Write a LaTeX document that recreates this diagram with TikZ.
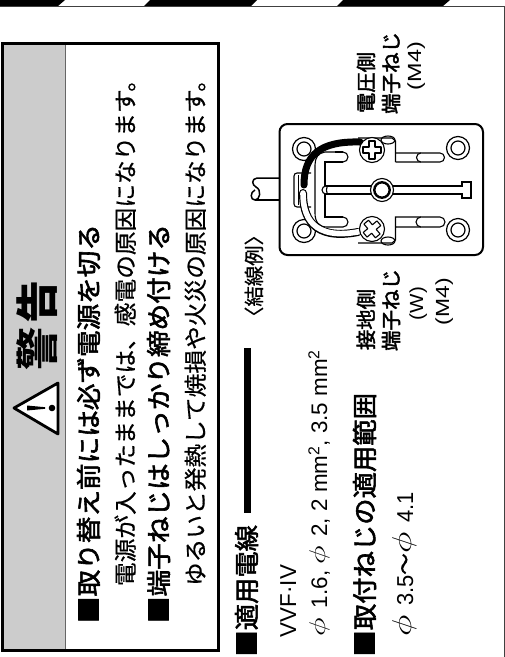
\documentclass[tikz,border=0pt]{standalone}
\usepackage{fontspec}
\setmainfont{Liberation Sans}
\newfontfamily\cjk[FakeBold=0.6]{Noto Sans CJK JP}
\newfontfamily\cjkm[FakeBold=2.2]{Noto Sans CJK JP}
\newfontfamily\cjkh{Noto Sans CJK JP}
% fit text to a given length along its line, keeping the glyph height
\newcommand{\jp}[3]{\resizebox{#1pt}{\height}{\fontsize{#2}{#2}\selectfont\cjk #3}}
\newcommand{\jb}[3]{\resizebox{#1pt}{\height}{\fontsize{#2}{#2}\selectfont\cjkm #3}}
\newcommand{\lt}[3]{\resizebox{#1pt}{\height}{\fontsize{#2}{#2}\selectfont #3}}
\newcommand{\ph}{\raisebox{2pt}{\scalebox{1.55}[1.1]{$\phi$}}\hspace{.42em}}
\tikzset{
  vtext/.style={rotate=90,anchor=base west,inner sep=0pt,outer sep=0pt},
  plate/.style={line width=1.1pt,black},
  hole/.style={draw=black,line width=1.2pt,fill=white},
}
\begin{document}
\begin{tikzpicture}[x=1pt,y=-1pt]
\useasboundingbox (0,0) rectangle (505,657);
\fill[white] (0,0) rectangle (505,657);
\begin{scope}
\clip (0,0) rectangle (505,657);
% top stripes
\fill[black] (0,0) -- (65,0) -- (58,6) -- (0,6) -- cycle;
\fill[black] (150,0) -- (257,0) -- (251,6) -- (144,6) -- cycle;
\fill[black] (343,0) -- (450,0) -- (443,6) -- (337,6) -- cycle;
\draw[line width=0.8pt,black!75] (0,6.3) -- (504,6.3) -- (504,657);
% warning box
\fill[black!20] (3,44) rectangle (65,650);
\draw[line width=0.8pt,black!60] (65,44) -- (65,650);
\draw[line width=3pt,black] (2.5,43.5) rectangle (218.5,650);
% triangle
\draw[line width=2.8pt,black,line join=round,fill=white] (14,408) -- (58,383) -- (58,434) -- cycle;
\fill[black] (27,405.5) -- (45,407.2) -- (45,408.8) -- (27,410.5) -- cycle;
\fill[black] (52,408) circle (3.3);
% heading
\node[rotate=90,inner sep=0pt] (kei) at (37.5,349) {\fontsize{43}{43}\selectfont\cjkh\bfseries 警};
\node[rotate=90,inner sep=0pt] (koku) at (37.5,302) {\fontsize{43}{43}\selectfont\cjkh\bfseries 告};
% warning lines
\node[vtext] (l1) at (98,623) {\jb{399}{25}{■取り替え前には必ず電源を切る}};
\node[vtext] (l2) at (134,586) {\jp{518}{23}{電源が入ったままでは、感電の原因になります。}};
\node[vtext] (l3) at (168,623) {\jb{399}{25}{■端子ねじはしっかり締め付ける}};
\node[vtext] (l4) at (204,586) {\jp{518}{23}{ゆるいと発熱して焼損や火災の原因になります。}};
% spec section
\node[vtext] (s1) at (256,656.5) {\jb{131.5}{25}{■適用電線}};
\fill[black] (244,348) rectangle (251,513);
\node[vtext] (s2) at (296,637) {\lt{72}{23}{VVF·IV}};
\node[vtext] (s3) at (327,636) {\lt{286}{22.5}{\ph 1.6, \ph 2, 2 mm\textsuperscript{2}, 3.5 mm\textsuperscript{2}}};
\node[vtext] (s4) at (374,656.5) {\jb{263.5}{25}{■取付ねじの適用範囲}};
\node[vtext] (s5) at (413,636) {\lt{144}{23}{\ph 3.5{\cjk〜}\ph 4.1}};
\node[vtext] (ex) at (261.5,327) {\jp{102}{20}{〈結線例〉}};
% labels
\node[vtext] (a1) at (373.5,113) {\jb{61}{20}{電圧側}};
\node[vtext] (a2) at (398.5,114) {\jb{82}{20}{端子ねじ}};
\node[vtext] (a3) at (421,90) {\lt{48}{19}{(M4)}};
\node[vtext] (b1) at (373.5,350) {\jb{61}{20}{接地側}};
\node[vtext] (b2) at (398.5,351) {\jb{82}{20}{端子ねじ}};
\node[vtext] (b3) at (423,320) {\lt{33}{19}{(W)}};
\node[vtext] (b4) at (449,325) {\lt{47}{19}{(M4)}};
% cable
\draw[plate,line width=1.5pt] (280,178) -- (257,178) .. controls (251,179) and (252,185) .. (256,187) .. controls (262,190) and (260,200) .. (255,200) .. controls (250,200) and (250,192) .. (255,190);
\draw[plate,line width=1.5pt] (255,200) -- (280,200);
% switch plate
\draw[line width=2pt,black,fill=white,rounded corners=8pt] (279.5,124) rectangle (483,255);
% holes
\foreach \c in {(304,149),(304,231),(458,148),(458,230)}{
  \draw[hole] \c circle (11.5);
  \draw[hole] \c circle (7);
}
% clamp
\draw[plate,rounded corners=3pt,fill=white] (311,173) -- (294,173) -- (294,207) -- (311,207);
\draw[line width=.8pt] (298,175) -- (298,205);
% link and bracket
\draw[plate] (343,162) -- (325,162) -- (325,186);
\draw[plate] (325,194) -- (325,217) -- (343,217);
\draw[plate] (343,152) -- (325,152) .. controls (318,153) and (315,158) .. (315,165) -- (315,213) .. controls (315,222) and (319,227) .. (327,227) -- (343,227);
\draw[line width=2pt] (335,152) -- (343,152);
\draw[line width=2pt] (335,217) -- (343,217);
\draw[plate] (343,152) arc (-90:90:5);
\draw[plate] (343,217) arc (-90:90:5);
% centre slot
\draw[plate] (328,186) -- (462,186) -- (462,182) -- (471,182) -- (471,198) -- (462,198) -- (462,194) -- (328,194);
\draw[plate] (326,186) arc (-90:-270:4) ;
\draw[plate] (326,186) -- (328,186) (326,194) -- (328,194);
\draw[plate] (328,186) arc (-90:-270:1.5 and 4);
\draw[plate,fill=white] (382,190) circle (11.5);
\draw[line width=2.4pt] (382,190) circle (7.7);
% right pills and terminals
\draw[plate] (358,138) -- (392,138) -- (395.5,141) -- (395.5,162);
\draw[plate] (395.5,153) -- (440,153) arc (-90:90:4.5) -- (395.5,162);
\draw[plate,fill=white] (421,153) arc (-90:-270:4.5);
\draw[plate] (358,243) -- (392,243) -- (395.5,240) -- (395.5,217) -- (440,217) arc (-90:90:5) -- (395.5,227);
\draw[plate,fill=white] (421,217) arc (-90:-270:5);
\draw[plate] (388,140) ellipse (7 and 4);
\draw[plate] (388,241) ellipse (7 and 4);
% wires
\draw[line width=8pt,black,line cap=round] (303,193) .. controls (303,216) and (312,241) .. (358,232);
\draw[line width=5.6pt,white,line cap=round] (303,193) .. controls (303,216) and (312,241) .. (360,231.5);
\draw[line width=7pt,black,line cap=round] (304,185) .. controls (304,155) and (320,141) .. (360,142);
% screws
\draw[plate,fill=white] (372,150) circle (12.5);
\draw[plate,line join=round,fill=white,shift={(372,150)}] (-3,-3) -- (-3,-9) -- (3,-9) -- (3,-3) -- (9,-3) -- (9,3) -- (3,3) -- (3,9) -- (-3,9) -- (-3,3) -- (-9,3) -- (-9,-3) -- cycle;
\draw[plate,fill=white] (372,229) circle (12.5);
\draw[plate,line join=round,fill=white,shift={(372,229)},rotate=40] (-3,-3) -- (-3,-9) -- (3,-9) -- (3,-3) -- (9,-3) -- (9,3) -- (3,3) -- (3,9) -- (-3,9) -- (-3,3) -- (-9,3) -- (-9,-3) -- cycle;
\end{scope}
\end{tikzpicture}
\end{document}
